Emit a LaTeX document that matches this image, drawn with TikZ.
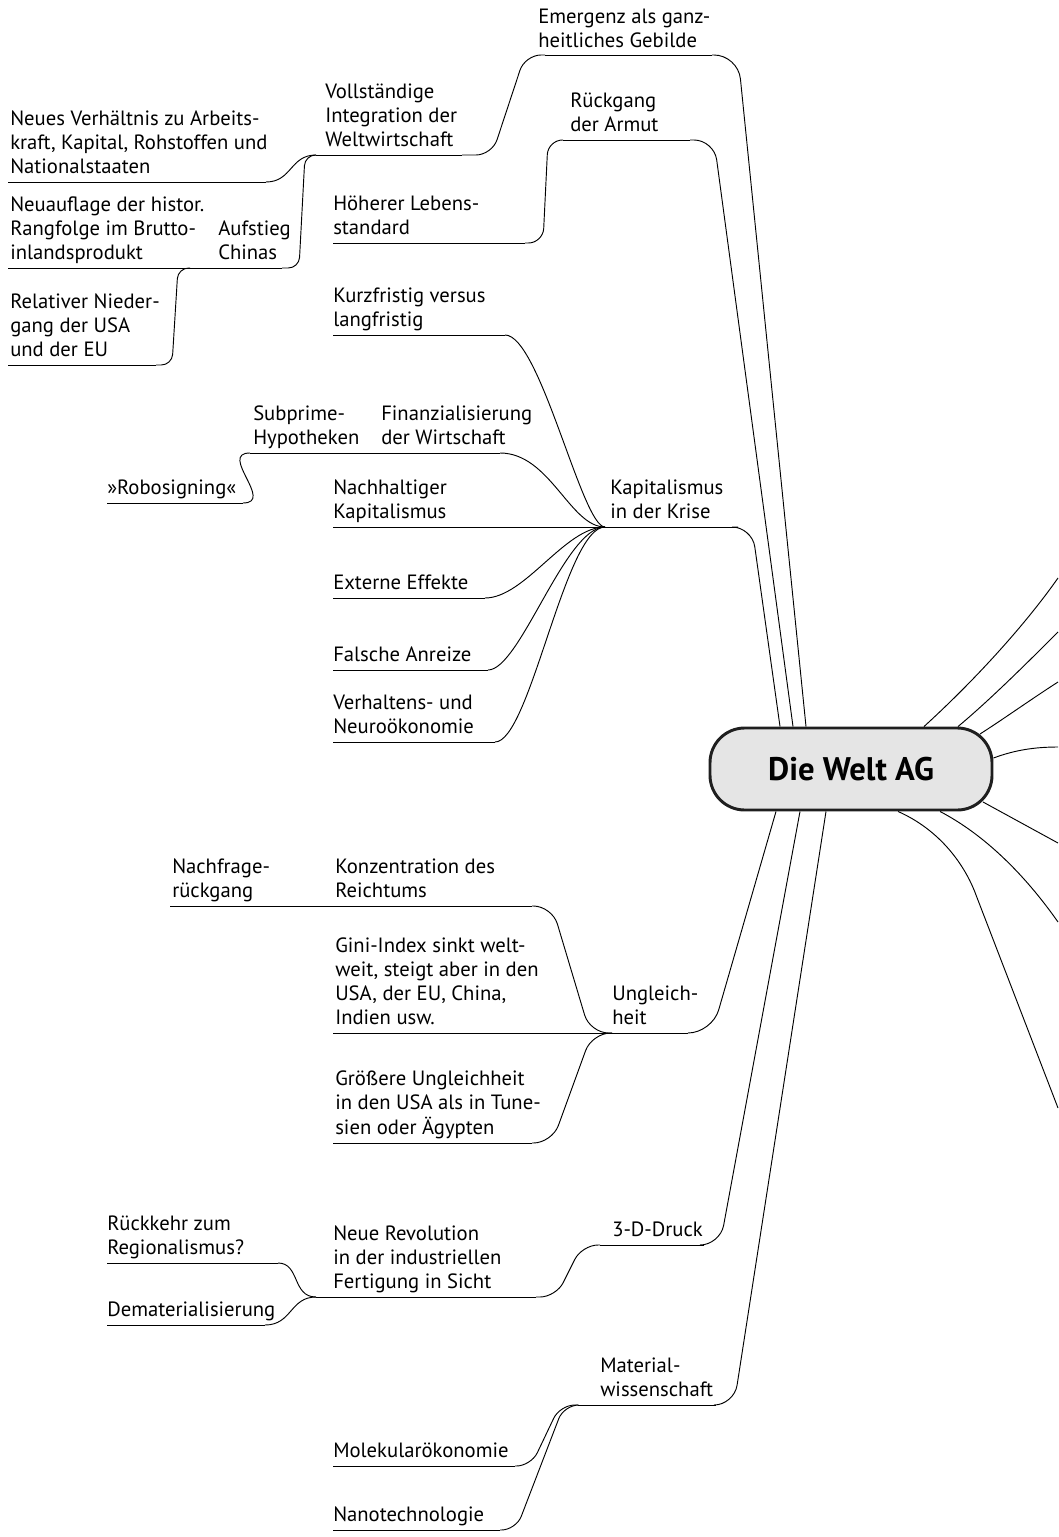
\documentclass[tikz,border=0pt]{standalone}
\usepackage{fontspec}
\setmainfont{PT Sans}
\usetikzlibrary{calc}
\newcommand\ml[1]{\begin{tabular}[b]{@{}l@{}}#1\end{tabular}}
\begin{document}
\begin{tikzpicture}[x=0.75pt,y=-0.75pt,
  lbl/.style={anchor=base west, inner sep=0pt, yshift=-1pt, font=\fontsize{15.5pt}{18pt}\selectfont},
  ul/.style={line width=0.7pt},
  con/.style={line width=0.7pt, rounded corners=12pt},
  rootbox/.style={draw=black!88, line width=2.2pt, fill=black!10, rounded corners=26pt,
     minimum width=211.5pt, minimum height=61.5pt, inner sep=0pt,
     font=\fontsize{24.5pt}{28pt}\bfseries\selectfont}
  ]
\useasboundingbox (0,0) rectangle (1058,1537);

% ---------- root ----------
\node[rootbox] (root) at (851,769) {Die Welt AG};

% ---------- labels ----------
\node[lbl] (A) at (538,46) {\ml{Emergenz als ganz-\\heitliches Gebilde}};
\node[lbl] (B) at (325,145) {\ml{Vollständige\\Integration der\\Weltwirtschaft}};
\node[lbl] (C) at (10,172) {\ml{Neues Verhältnis zu Arbeits-\\kraft, Kapital, Rohstoffen und\\Nationalstaaten}};
\node[lbl] (D) at (218,258) {\ml{Aufstieg\\Chinas}};
\node[lbl] (E) at (10,258) {\ml{Neuauflage der histor.\\Rangfolge im Brutto-\\inlandsprodukt}};
\node[lbl] (F) at (10,355) {\ml{Relativer Nieder-\\gang der USA\\und der EU}};
\node[lbl] (G) at (570,130) {\ml{Rückgang\\der Armut}};
\node[lbl] (H) at (333,233) {\ml{Höherer Lebens-\\standard}};
\node[lbl] (I) at (610,517) {\ml{Kapitalismus\\in der Krise}};
\node[lbl] (K) at (333,325) {\ml{Kurzfristig versus\\langfristig}};
\node[lbl] (L) at (381,443) {\ml{Finanzialisierung\\der Wirtschaft}};
\node[lbl] (M) at (253,443) {\ml{Subprime-\\Hypotheken}};
\node[lbl] (N) at (107,493) {»Robosigning«};
\node[lbl] (O) at (333,517) {\ml{Nachhaltiger\\Kapitalismus}};
\node[lbl] (P) at (333,588) {Externe Effekte};
\node[lbl] (Q) at (333,660) {Falsche Anreize};
\node[lbl] (R) at (333,732) {\ml{Verhaltens- und\\Neuroökonomie}};
\node[lbl] (S) at (612,1023) {\ml{Ungleich-\\heit}};
\node[lbl] (T) at (335,896) {\ml{Konzentration des\\Reichtums}};
\node[lbl] (U) at (172,896) {\ml{Nachfrage-\\rückgang}};
\node[lbl] (V) at (335,1023) {\ml{Gini-Index sinkt welt-\\weit, steigt aber in den\\USA, der EU, China,\\Indien usw.}};
\node[lbl] (W) at (335,1133) {\ml{Größere Ungleichheit\\in den USA als in Tune-\\sien oder Ägypten}};
\node[lbl] (X) at (612,1235) {3-D-Druck};
\node[lbl] (Y) at (333,1287) {\ml{Neue Revolution\\in der industriellen\\Fertigung in Sicht}};
\node[lbl] (Z) at (107,1253) {\ml{Rückkehr zum\\Regionalismus?}};
\node[lbl] (AA) at (107,1315) {Dematerialisierung};
\node[lbl] (BB) at (600,1395) {\ml{Material-\\wissenschaft}};
\node[lbl] (CC) at (333,1456) {Molekularökonomie};
\node[lbl] (DD) at (333,1520) {Nanotechnologie};

% ---------- underline ends ----------
\coordinate (A-l) at (545,55);   \coordinate (A-r) at (712,55);
\coordinate (B-l) at (316,155);  \coordinate (B-r) at (462,155);
\coordinate (C-l) at (8,182);    \coordinate (C-r) at (266,182);
\coordinate (D-l) at (190,268);  \coordinate (D-r) at (282,268);
\coordinate (E-l) at (8,268);
\coordinate (F-l) at (8,365);    \coordinate (F-r) at (156,365);
\coordinate (G-l) at (563,140);  \coordinate (G-r) at (690,140);
\coordinate (H-l) at (333,243);  \coordinate (H-r) at (525,243);
\coordinate (J) at (605,527);    \coordinate (I-r) at (738,527);
\coordinate (K-l) at (333,335);  \coordinate (K-r) at (505,335);
\coordinate (L-l) at (377,453);  \coordinate (L-r) at (500,453);
\coordinate (M-l) at (250,453);
\coordinate (N-l) at (107,503);  \coordinate (N-r) at (243,503);
\coordinate (O-l) at (333,527);
\coordinate (P-l) at (333,598);  \coordinate (P-r) at (485,598);
\coordinate (Q-l) at (333,670);  \coordinate (Q-r) at (488,670);
\coordinate (R-l) at (333,742);  \coordinate (R-r) at (495,742);
\coordinate (S-l) at (612,1033); \coordinate (S-r) at (688,1033);
\coordinate (T-l) at (333,906);  \coordinate (T-r) at (532,906);
\coordinate (U-l) at (170,906);
\coordinate (V-l) at (333,1033);
\coordinate (W-l) at (333,1143); \coordinate (W-r) at (532,1143);
\coordinate (X-l) at (600,1245); \coordinate (X-r) at (704,1245);
\coordinate (Y-l) at (316,1297); \coordinate (Y-r) at (536,1297);
\coordinate (Z-l) at (107,1263); \coordinate (Z-r) at (278,1263);
\coordinate (AA-l) at (107,1325); \coordinate (AA-r) at (265,1325);
\coordinate (BB-l) at (578,1405); \coordinate (BB-r) at (716,1405);
\coordinate (CC-l) at (333,1466); \coordinate (CC-r) at (515,1466);
\coordinate (DD-l) at (333,1530); \coordinate (DD-r) at (500,1530);
% free ends at the right border
\coordinate (e1) at (1058,578);
\coordinate (e2) at (1058,632);
\coordinate (e3) at (1058,682);
\coordinate (e4) at (1058,747);
\coordinate (e5) at (1058,843);
\coordinate (e6) at (1058,922);
\coordinate (e7) at (1058,1108);

% ---------- underlines ----------
\foreach \n in {A,B,C,D,F,G,H,K,L,N,P,Q,R,S,T,W,X,Y,Z,AA,BB,CC,DD}
  \draw[ul] (\n-l) -- (\n-r);
\draw[ul] (E-l) -- (D-l);
\draw[ul] (J) -- (I-r);
\draw[ul] (M-l) -- (L-l);
\draw[ul] (O-l) -- (J);
\draw[ul] (U-l) -- (T-l);
\draw[ul] (V-l) -- (S-l);

% ---------- connectors ----------
% top cluster
\draw[con, rounded corners=18pt] (A-r) -- (738,55) -- ($(root.north)+(-45,0)$);
\draw[con] (B-r) -- (492,155) -- (525,55) -- (A-l);
\draw[ul] (C-r) .. controls (292,182) and (290,155) .. (B-l);
\draw[con, rounded corners=8pt] (D-r) -- (299,268) -- (305,155) -- (B-l);
\draw[con, rounded corners=8pt] (F-r) -- (172,365) -- (178,268) -- (D-l);
\draw[con, rounded corners=15pt] (G-r) -- (714,140) -- ($(root.north)+(-58,0)$);
\draw[con, rounded corners=11pt] (H-r) -- (543,243) -- (548,140) -- (G-l);
% Kapitalismus cluster
\draw[con, rounded corners=15pt] (I-r) -- (752,527) -- ($(root.north)+(-71,0)$);
\draw[ul] (K-r) .. controls (540,335) and (582,527) .. (J);
\draw[ul] (L-r) .. controls (550,453) and (570,527) .. (J);
\draw[ul] (N-r) .. controls (275,503) and (218,453) .. (M-l);
\draw[ul] (P-r) .. controls (525,598) and (565,527) .. (J);
\draw[ul] (Q-r) .. controls (520,670) and (565,527) .. (J);
\draw[ul] (R-r) .. controls (530,742) and (565,527) .. (J);
% Ungleichheit cluster
\draw[con, rounded corners=18pt] (S-r) -- (712,1033) -- ($(root.south)+(-75,0)$);
\draw[con, rounded corners=14pt] (T-r) -- (552,906) -- (590,1033) -- (S-l);
\draw[con, rounded corners=14pt] (W-r) -- (552,1143) -- (592,1033) -- (S-l);
% 3-D-Druck cluster
\draw[con, rounded corners=15pt] (X-r) -- (720,1245) -- ($(root.south)+(-51,0)$);
\draw[con, rounded corners=12pt] (Y-r) -- (556,1297) -- (582,1245) -- (X-l);
\draw[ul] (Z-r) .. controls (300,1263) and (292,1297) .. (Y-l);
\draw[ul] (AA-r) .. controls (292,1325) and (290,1297) .. (Y-l);
% Materialwissenschaft cluster
\draw[con, rounded corners=15pt] (BB-r) -- (734,1405) -- ($(root.south)+(-25,0)$);
\draw[con, rounded corners=11pt] (CC-r) -- (531,1466) -- (560,1405) -- (BB-l);
\draw[con, rounded corners=11pt] (DD-r) -- (516,1530) -- (564,1405) -- (BB-l);

% ---------- right side branches ----------
\draw[ul] ($(root.north)+(73,0)$) .. controls (975,680) and (1025,625) .. (e1);
\draw[ul] ($(root.north)+(107,0)$) .. controls (990,700) and (1030,660) .. (e2);
\draw[ul] ($(root.center)+(129,-35)$) .. controls (1005,718) and (1030,700) .. (e3);
\draw[ul] ($(root.east)+(0,-11)$) .. controls (1015,750) and (1035,747) .. (e4);
\draw[ul] ($(root.center)+(132,33)$) -- (e5);
\draw[ul] ($(root.south)+(89,0)$) .. controls (985,835) and (1025,875) .. (e6);
\draw[ul] ($(root.south)+(47,0)$) .. controls (940,830) and (965,865) .. (976,895) -- (e7);
\end{tikzpicture}
\end{document}
